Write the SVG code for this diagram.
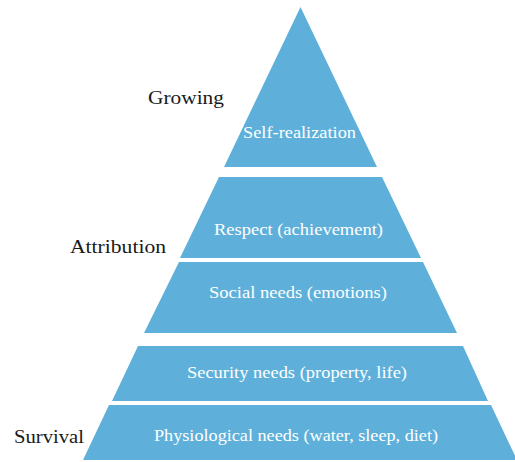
<svg xmlns="http://www.w3.org/2000/svg" width="515" height="462" viewBox="0 0 515 462">
  <style>
    .tier { fill: #5EB0DA; }
    .inner { font-family: "Liberation Serif", "Times New Roman", serif; font-size: 16px; fill: #FFFFFF; }
    .side { font-family: "Liberation Serif", "Times New Roman", serif; font-size: 19px; fill: #1A1A1A; }
  </style>
  <rect width="515" height="462" fill="#FFFFFF"/>

  <!-- pyramid tiers, top to bottom -->
  <g id="self-realization">
    <polygon class="tier" points="300.5,7 224,167 377,167"/>
    <text class="inner" x="243" y="138" textLength="113" lengthAdjust="spacingAndGlyphs">Self-realization</text>
  </g>
  <g id="respect">
    <polygon class="tier" points="219,177 382,177 421,258 180,258"/>
    <text class="inner" x="214" y="235" textLength="169" lengthAdjust="spacingAndGlyphs">Respect (achievement)</text>
  </g>
  <g id="social">
    <polygon class="tier" points="179,262 423,262 457,333 144,333"/>
    <text class="inner" x="209" y="298" textLength="178" lengthAdjust="spacingAndGlyphs">Social needs (emotions)</text>
  </g>
  <g id="security">
    <polygon class="tier" points="138,346 463,346 488,401 112,401"/>
    <text class="inner" x="187" y="378" textLength="220" lengthAdjust="spacingAndGlyphs">Security needs (property, life)</text>
  </g>
  <g id="physiological">
    <polygon class="tier" points="109,405 491,405 517,460 83,460"/>
    <text class="inner" x="154" y="441" textLength="284" lengthAdjust="spacingAndGlyphs">Physiological needs (water, sleep, diet)</text>
  </g>

  <!-- level labels -->
  <g id="label-growing">
    <text class="side" x="148" y="104" textLength="76" lengthAdjust="spacingAndGlyphs">Growing</text>
  </g>
  <g id="label-attribution">
    <text class="side" x="70" y="253" textLength="96" lengthAdjust="spacingAndGlyphs">Attribution</text>
  </g>
  <g id="label-survival">
    <text class="side" x="14" y="443" textLength="70" lengthAdjust="spacingAndGlyphs">Survival</text>
  </g>

  <g id="connectors"></g>
</svg>
